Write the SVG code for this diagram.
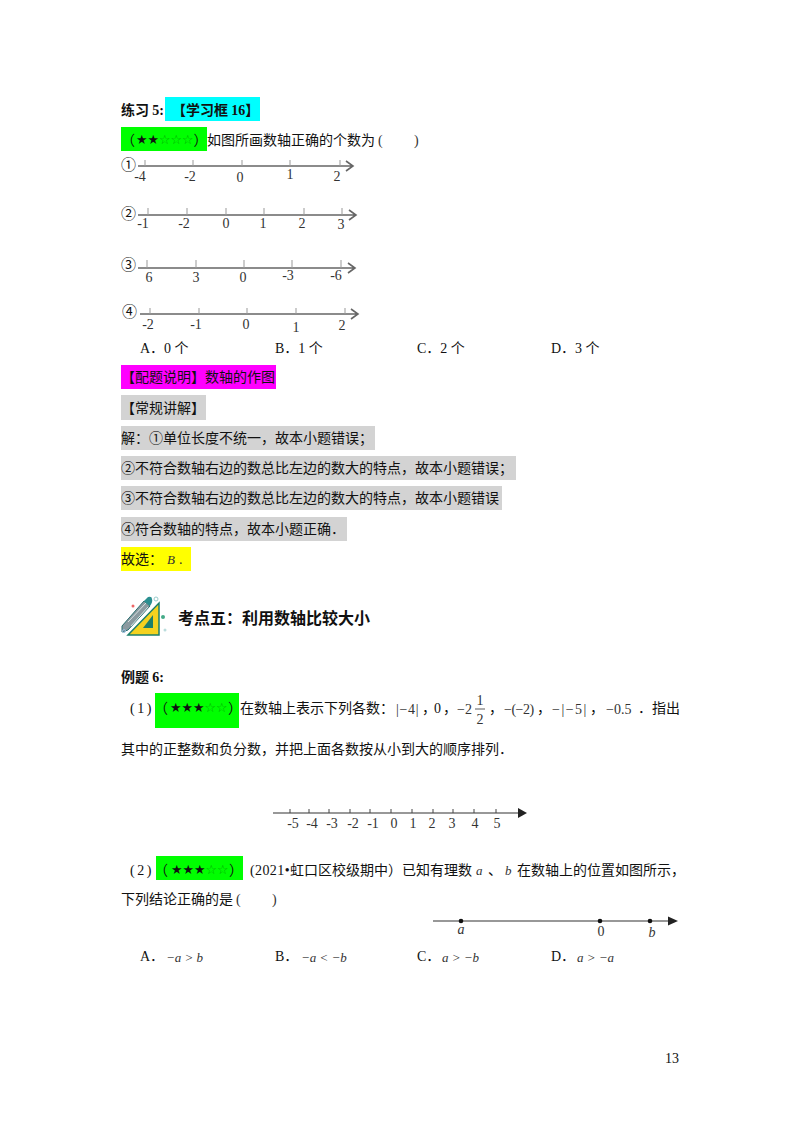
<svg xmlns="http://www.w3.org/2000/svg" width="800" height="1132" viewBox="0 0 800 1132">
<style>
text{font-family:"Noto Sans CJK SC","Liberation Sans",sans-serif;font-size:14px;fill:#111}
.s{font-family:"Liberation Serif","Noto Sans CJK SC",serif}
.b{font-weight:700}
.m{font-family:"Liberation Serif",serif;font-size:14px;fill:#333}
.i{font-family:"Liberation Serif",serif;font-size:13px;font-style:italic;fill:#333}
.n{font-family:"Liberation Serif",serif;font-size:14px;fill:#333;text-anchor:middle}
.st{font-family:"DejaVu Sans",sans-serif;font-size:12.800px}
.g{fill:#0a0}
.c{font-size:15px}
.ax{stroke:#666;stroke-width:1.6;fill:none}
.tk{stroke:#999;stroke-width:1;fill:none}
.ax2{stroke:#333;stroke-width:1.2;fill:none}
.tk2{stroke:#444;stroke-width:1;fill:none}
</style>
<rect width="800" height="1132" fill="#fff"/>
<g id="highlights">
<rect x="165" y="97" width="95" height="24" fill="#0ff"/>
<rect x="121" y="127" width="86" height="24" fill="#0f0"/>
<rect x="121" y="365" width="155" height="24" fill="#f0f"/>
<rect x="121" y="395" width="85" height="25" fill="#d3d3d3"/>
<rect x="121" y="426" width="254" height="24" fill="#d3d3d3"/>
<rect x="121" y="456" width="395" height="24" fill="#d3d3d3"/>
<rect x="121" y="486" width="381" height="24" fill="#d3d3d3"/>
<rect x="121" y="517" width="226" height="24" fill="#d3d3d3"/>
<rect x="121" y="547" width="70" height="24" fill="#ff0"/>
<rect x="155" y="693" width="84" height="35" fill="#0f0"/>
<rect x="156" y="856" width="87" height="24" fill="#0f0"/>
</g>
<g id="exercise-heading">
<text x="121" y="115" class="b">练习 <tspan class="s b">5:</tspan></text>
<text x="172" y="115" class="b">【学习框 <tspan class="s b">16</tspan>】</text>
</g>
<g id="exercise-question">
<text x="121" y="145">（</text>
<text x="136" y="144" class="st">★★<tspan class="g">☆☆☆</tspan></text>
<text x="193.500" y="145">）</text>
<text x="207" y="145">如图所画数轴正确的个数为</text>
<text x="378" y="145" class="m">(</text>
<text x="414" y="145" class="m">)</text>
</g>
<g id="axis-1">
<text x="121" y="170" class="c">①</text>
<path class="ax" d="M138 166H353M346 161l7 5-7 5"/>
<path class="tk" d="M145 160v6M193 160v6M242 160v6M290 160v6M340 160v6"/>
<text class="n" x="140" y="181">-4</text><text class="n" x="190" y="181">-2</text><text class="n" x="240" y="182">0</text><text class="n" x="290" y="179">1</text><text class="n" x="337" y="181">2</text>
</g>
<g id="axis-2">
<text x="121" y="219" class="c">②</text>
<path class="ax" d="M138 215H356M349 210l7 5-7 5"/>
<path class="tk" d="M148 208v7M187 208v7M226 208v7M264 208v7M304 208v7M342 208v7"/>
<text class="n" x="143" y="228">-1</text><text class="n" x="184" y="228">-2</text><text class="n" x="226" y="228">0</text><text class="n" x="263" y="228">1</text><text class="n" x="302" y="228">2</text><text class="n" x="341" y="229">3</text>
</g>
<g id="axis-3">
<text x="121" y="270" class="c">③</text>
<path class="ax" d="M138 268H355M348 263l7 5-7 5"/>
<path class="tk" d="M147 260v8M196 260v8M244 260v8M292 260v8M341 260v8"/>
<text class="n" x="149" y="282">6</text><text class="n" x="196" y="282">3</text><text class="n" x="243" y="282">0</text><text class="n" x="288" y="280">-3</text><text class="n" x="336" y="280">-6</text>
</g>
<g id="axis-4">
<text x="122" y="317" class="c">④</text>
<path class="ax" d="M140 314H358M351 309l7 5-7 5"/>
<path class="tk" d="M150 308v6M199 308v6M247 308v6M296 308v6M345 308v6"/>
<text class="n" x="148" y="329">-2</text><text class="n" x="196" y="329">-1</text><text class="n" x="246" y="329">0</text><text class="n" x="296" y="332">1</text><text class="n" x="342" y="330">2</text>
</g>
<g id="options-1">
<text x="140" y="353" class="s">A．0 个</text>
<text x="275" y="353" class="s">B．1 个</text>
<text x="417" y="353" class="s">C．2 个</text>
<text x="551" y="353" class="s">D．3 个</text>
</g>
<g id="explanation">
<text x="121" y="382">【配题说明】数轴的作图</text>
<text x="121" y="413">【常规讲解】</text>
<text x="121" y="443">解：①单位长度不统一，故本小题错误；</text>
<text x="121" y="473">②不符合数轴右边的数总比左边的数大的特点，故本小题错误；</text>
<text x="121" y="503">③不符合数轴右边的数总比左边的数大的特点，故本小题错误</text>
<text x="121" y="534">④符合数轴的特点，故本小题正确．</text>
<text x="121" y="564">故选：</text><text x="167" y="564" class="i">B</text><text x="179" y="564" class="m">.</text>
</g>
<g id="section-icon">
<path d="M159 603V635H128Z" fill="#f4d21f" stroke="#1b7f6b" stroke-width="1.500"/>
<path d="M153 615V628H143Z" fill="#1b7f6b"/>
<path d="M122 626L144 601L150 606L128 630L122 632Z" fill="#8a9aa0" stroke="#2a6f70" stroke-width="1"/>
<path d="M128 622L146 603M131 626L148 607" stroke="#d8e4e4" stroke-width="1" fill="none"/>
<path d="M144 601L148 597Q152 596 152 599Q153 602 150 606Z" fill="#2a8f90"/>
<circle cx="156" cy="599" r="2" fill="none" stroke="#9cc" stroke-width="1"/>
<circle cx="133" cy="606" r="1.500" fill="#e66"/>
<circle cx="163" cy="617" r="2" fill="#4a8"/>
<circle cx="165" cy="630" r="1.500" fill="#bdd"/>
<circle cx="124" cy="631" r="1.500" fill="none" stroke="#9bd"/>
</g>
<g id="section-title">
<text x="178" y="624" class="b" style="font-size:16px">考点五：利用数轴比较大小</text>
</g>
<g id="example-heading">
<text x="121" y="682" class="b">例题 <tspan class="s b">6:</tspan></text>
</g>
<g id="example-1">
<text x="130" y="713" class="s" letter-spacing="2.500">(1)</text>
<text x="154" y="713">（</text>
<text x="170" y="712" class="st">★★★<tspan class="g">☆☆</tspan></text>
<text x="228" y="713" letter-spacing="-3">）</text>
<text x="240" y="713">在数轴上表示下列各数：</text>
<text x="396" y="714" class="m" letter-spacing=".7">|−4|</text>
<text x="422" y="713">，</text><text x="434" y="713" class="s">0</text><text x="443" y="713">，</text>
<text x="457" y="714" class="m">−2</text>
<text x="480" y="705" class="n">1</text><path d="M475 709H485" stroke="#333" stroke-width=".8"/><text x="480" y="724" class="n">2</text>
<text x="489" y="713">，</text>
<text x="504" y="714" class="m" letter-spacing="-.5">−(−2)</text>
<text x="537" y="713">，</text>
<text x="552" y="714" class="m" letter-spacing="1.500">−|−5|</text>
<text x="590" y="713">，</text>
<text x="606" y="714" class="m">−0.5</text>
<text x="638" y="713">．指出</text>
<text x="121" y="754">其中的正整数和负分数，并把上面各数按从小到大的顺序排列．</text>
</g>
<g id="axis-example">
<path class="ax2" d="M273 813H520"/><path d="M518 808L527 813L518 818Z" fill="#222"/>
<path class="tk2" d="M290 809v4M309 809v4M329 809v4M350 809v4M370 809v4M391 809v4M412 809v4M433 809v4M453 809v4M474 809v4M496 809v4"/>
<text class="n" x="293" y="828">-5</text><text class="n" x="312" y="828">-4</text><text class="n" x="332" y="828">-3</text><text class="n" x="353" y="828">-2</text><text class="n" x="373" y="828">-1</text><text class="n" x="394" y="828">0</text><text class="n" x="413" y="828">1</text><text class="n" x="432" y="828">2</text><text class="n" x="452" y="828">3</text><text class="n" x="475" y="828">4</text><text class="n" x="497" y="828">5</text>
</g>
<g id="example-2">
<text x="130" y="875" class="s" letter-spacing="2.500">(2)</text>
<text x="154" y="875">（</text>
<text x="171" y="874" class="st">★★★<tspan class="g">☆☆</tspan></text>
<text x="229" y="875" letter-spacing="-3">）</text>
<text x="250" y="875" class="s" letter-spacing=".4">(2021•</text>
<text x="290" y="875">虹口区校级期中）已知有理数</text>
<text x="476" y="875" class="i">a</text><text x="488" y="875">、</text><text x="505" y="875" class="i">b</text>
<text x="517" y="875">在数轴上的位置如图所示，</text>
<text x="121" y="904">下列结论正确的是</text>
<text x="236" y="904" class="m">(</text><text x="272" y="904" class="m">)</text>
</g>
<g id="axis-ab">
<path class="ax2" d="M433 921H672"/><path d="M668 916.500L678 921L668 925.500Z" fill="#222"/>
<circle cx="461" cy="921" r="2.300" fill="#111"/><circle cx="600" cy="921" r="2.300" fill="#111"/><circle cx="650" cy="921" r="2.300" fill="#111"/>
<text x="461" y="934" class="n" style="font-style:italic">a</text><text x="601" y="936" class="n">0</text><text x="652" y="937" class="n" style="font-style:italic">b</text>
</g>
<g id="options-2">
<text x="140" y="961" class="s">A．</text><text x="166" y="962" class="i">−a &gt; b</text>
<text x="275" y="961" class="s">B．</text><text x="301" y="962" class="i">−a &lt; −b</text>
<text x="417" y="961" class="s">C．</text><text x="442" y="962" class="i">a &gt; −b</text>
<text x="551" y="961" class="s">D．</text><text x="577" y="962" class="i">a &gt; −a</text>
</g>
<g id="page-number"><text x="665" y="1063" class="s">13</text></g>
</svg>
